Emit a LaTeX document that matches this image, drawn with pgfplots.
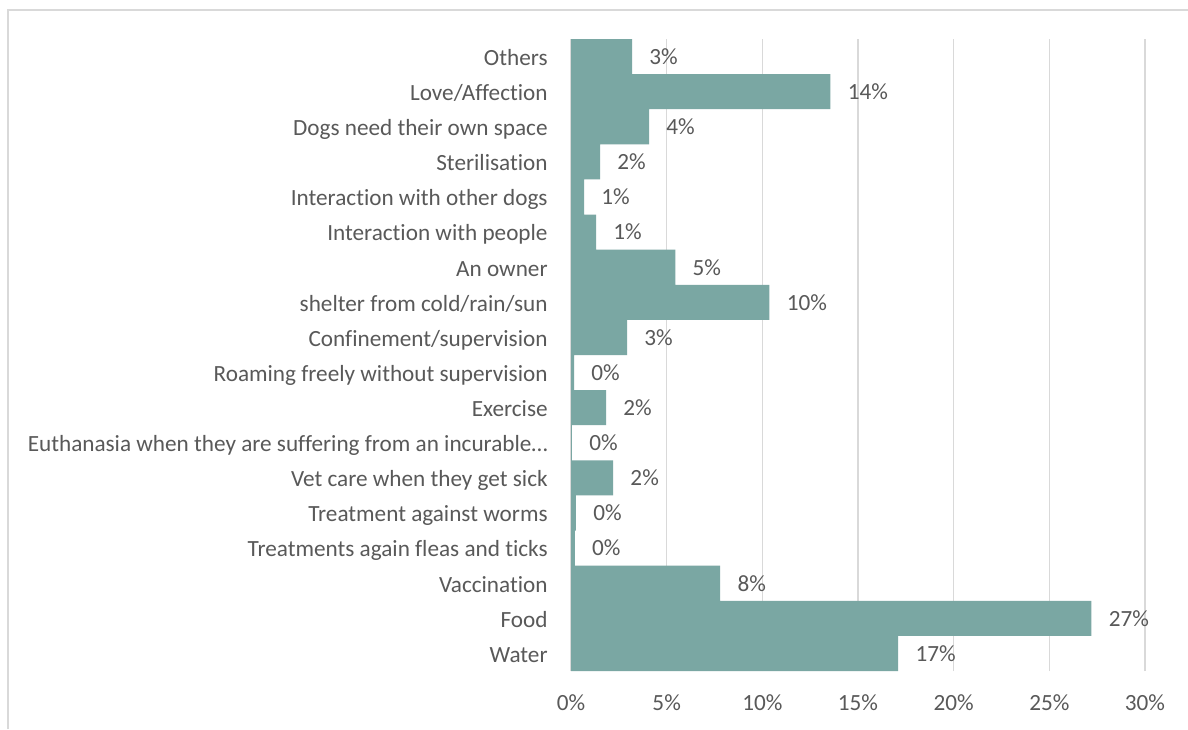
\documentclass[border=0pt]{standalone}
\usepackage{pgfplots}
\pgfplotsset{compat=1.18}
\usepackage{fontspec}
\setmainfont{Carlito}[Ligatures=NoCommon]
\definecolor{barc}{RGB}{122,167,163}
\definecolor{txt}{RGB}{89,89,89}
\definecolor{grd}{RGB}{217,217,217}
\begin{document}
\begin{tikzpicture}[font=\fontsize{11.6pt}{13.5pt}\selectfont]
\useasboundingbox (0,0) rectangle (594pt,-364.5pt);
\fill[white] (0,0) rectangle (594pt,-364.5pt);
\draw[grd, line width=1pt] (4pt,-364.5pt) -- (4pt,-5pt) -- (594pt,-5pt);
\begin{axis}[
 at={(285.5pt,-335.5pt)}, anchor=south west,
 scale only axis, width=287pt, height=316pt,
 xbar, bar width=17.556pt, bar shift=0pt,
 xmin=0, xmax=30, ymin=-0.5, ymax=17.5,
 enlargelimits=false,
 /pgf/number format/.cd, fixed, precision=0, assume math mode=true, /pgfplots/.cd,
 xtick={0,5,10,15,20,25,30},
 xticklabel={\pgfmathprintnumber{\tick}\%},
 ytick={0,...,17},
 yticklabels={Water,Food,Vaccination,Treatments again fleas and ticks,Treatment against worms,Vet care when they get sick,Euthanasia when they are suffering from an incurable…,Exercise,Roaming freely without supervision,Confinement/supervision,shelter from cold/rain/sun,An owner,Interaction with people,Interaction with other dogs,Sterilisation,Dogs need their own space,Love/Affection,Others},
 xmajorgrids, major grid style={grd, line width=0.8pt},
 axis line style={draw=none},
 tick style={draw=none}, major tick length=0pt,
 yticklabel style={anchor=base east, inner sep=0pt, xshift=-11.5pt, yshift=-4.4pt, text=txt},
 xticklabel style={anchor=base, inner sep=0pt, yshift=-19.7pt, text=txt},
 nodes near coords={\pgfmathprintnumber{\pgfplotspointmeta}\%},
 every node near coord/.append style={anchor=west, inner sep=0pt, xshift=8.5pt, text=txt, font=\fontsize{11.6pt}{13.5pt}\selectfont},
]
\addplot[fill=barc, draw=none] coordinates {
(17.1,0) (27.2,1) (7.8,2) (0.2,3) (0.26,4) (2.2,5) (0.05,6) (1.83,7) (0.16,8) (2.93,9) (10.37,10) (5.45,11) (1.31,12) (0.68,13) (1.52,14) (4.08,15) (13.56,16) (3.19,17)
};
\end{axis}
\end{tikzpicture}
\end{document}
